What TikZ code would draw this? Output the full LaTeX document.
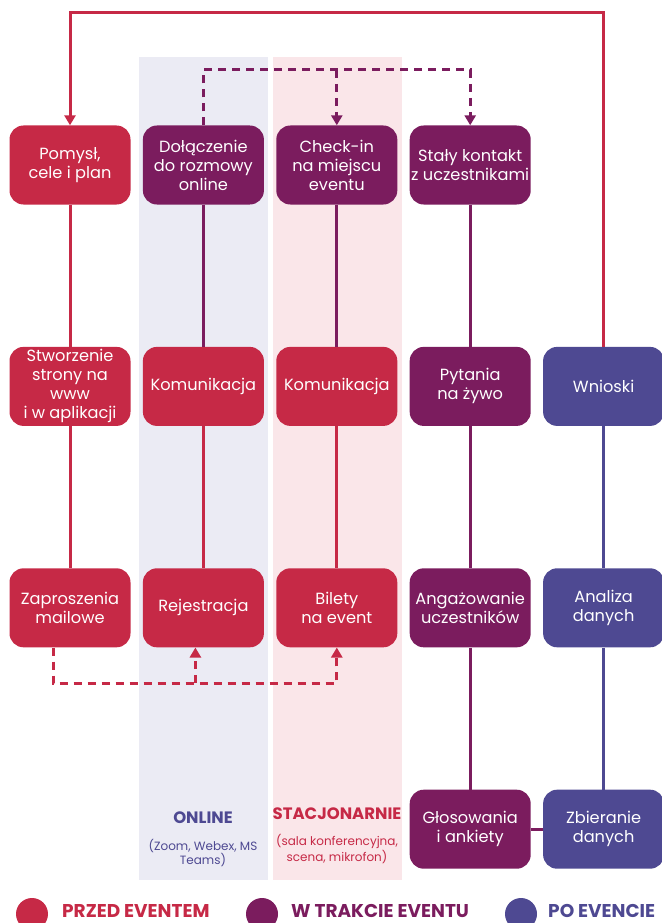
\documentclass[tikz,border=0pt]{standalone}
\usepackage{fontspec}
\setmainfont{Poppins}
\usetikzlibrary{positioning,arrows.meta}
\definecolor{PrzedRed}{RGB}{198,41,70}
\definecolor{TrakciePurple}{RGB}{123,28,94}
\definecolor{PoBlue}{RGB}{78,73,146}
\definecolor{OnlineBand}{RGB}{235,235,244}
\definecolor{StacBand}{RGB}{250,230,233}
\tikzset{
  box/.style={rounded corners=14pt, minimum width=121pt, minimum height=79pt,
    align=center, text=white, inner sep=0pt, font=\fontsize{16.2}{19}\selectfont},
  przed/.style={box, fill=PrzedRed},
  trakcie/.style={box, fill=TrakciePurple},
  po/.style={box, fill=PoBlue},
  link/.style={line width=3pt},
  dashlink/.style={line width=3pt, dash pattern=on 8pt off 6pt},
  tip/.style={-{Triangle[width=11pt,length=10pt]}},
  kropka/.style={circle, inner sep=0pt, minimum size=32pt},
  legenda/.style={anchor=base west, inner sep=0pt, font=\bfseries\fontsize{18.5}{19}\selectfont}
}
\begin{document}
\begin{tikzpicture}[x=1pt, y=-1pt, node distance=142pt and 12pt]
  \useasboundingbox (0,0) rectangle (661,923);
  % tla kanalow
  \fill[OnlineBand] (139,57) rectangle (268,880);
  \fill[StacBand] (273,57) rectangle (402,880);

  % wiersz 1
  \node[przed] (pomysl) at (70,165) {Pomysł,\\cele i plan};
  \node[trakcie, right=of pomysl] (dolaczenie) {Dołączenie\\do rozmowy\\online};
  \node[trakcie, right=of dolaczenie] (checkin) {Check-in\\na miejscu\\eventu};
  \node[trakcie, right=of checkin] (staly) {Stały kontakt\\z uczestnikami};
  % wiersz 2
  \node[przed, below=of pomysl] (strona) {Stworzenie\\strony na\\www\\i w aplikacji};
  \node[przed, below=of dolaczenie] (komonline) {Komunikacja};
  \node[przed, below=of checkin] (komstac) {Komunikacja};
  \node[trakcie, below=of staly] (pytania) {Pytania\\na żywo};
  \node[po, right=of pytania] (wnioski) {Wnioski};
  % wiersz 3
  \node[przed, below=of strona] (zaproszenia) {Zaproszenia\\mailowe};
  \node[przed, below=of komonline] (rejestracja) {Rejestracja};
  \node[przed, below=of komstac] (bilety) {Bilety\\na event};
  \node[trakcie, below=of pytania] (angazowanie) {Angażowanie\\uczestników};
  \node[po, below=of wnioski] (analiza) {Analiza\\danych};
  % wiersz 4
  \node[trakcie, below=of angazowanie] (glosowania) {Głosowania\\i ankiety};
  \node[po, below=of analiza] (zbieranie) {Zbieranie\\danych};

  % opisy kanalow
  \node[font=\bfseries\fontsize{16.5}{18}\selectfont, text=PoBlue] (online) at (203,818) {ONLINE};
  \node[font=\fontsize{12}{14}\selectfont, text=PoBlue, align=center] (onlineopis) at (203,853) {(Zoom, Webex, MS\\Teams)};
  \node[font=\bfseries\fontsize{16.5}{18}\selectfont, text=PrzedRed] (stac) at (337,814) {STACJONARNIE};
  \node[font=\fontsize{12}{14}\selectfont, text=PrzedRed, align=center] (stacopis) at (337,849) {(sala konferencyjna,\\scena, mikrofon)};

  % polaczenia
  \draw[link, PrzedRed] (pomysl) -- (strona);
  \draw[link, PrzedRed] (strona) -- (zaproszenia);
  \draw[link, TrakciePurple] (dolaczenie) -- (komonline);
  \draw[link, PrzedRed] (komonline) -- (rejestracja);
  \draw[link, TrakciePurple] (checkin) -- (komstac);
  \draw[link, PrzedRed] (komstac) -- (bilety);
  \draw[link, TrakciePurple] (staly) -- (pytania);
  \draw[link, TrakciePurple] (pytania) -- (angazowanie);
  \draw[link, TrakciePurple] (angazowanie) -- (glosowania);
  \draw[link, TrakciePurple] (glosowania) -- (zbieranie);
  \draw[link, PoBlue] (wnioski) -- (analiza);
  \draw[link, PoBlue] (analiza) -- (zbieranie);

  % petla od wnioskow
  \coordinate (gora) at (70,13);
  \draw[link, PrzedRed, tip] (wnioski.north) |- (gora) -- (pomysl.north);

  % przerywane
  \coordinate (dgora) at (0,70);
  \coordinate (ddol) at (0,683);
  \draw[dashlink, TrakciePurple, tip] (dolaczenie.north) -- (dolaczenie.north |- dgora)
    -- (staly.north |- dgora) -- (staly.north);
  \draw[dashlink, TrakciePurple, tip] (checkin.north |- dgora) -- (checkin.north);
  \draw[dashlink, PrzedRed, tip] ([xshift=-17pt]zaproszenia.south) -- ([xshift=-17pt]zaproszenia.south |- ddol)
    -- (bilety.south |- ddol) -- (bilety.south);
  \draw[dashlink, PrzedRed, tip] ([xshift=-8pt]rejestracja.south |- ddol) -- ([xshift=-8pt]rejestracja.south);

  % legenda
  \node[kropka, fill=PrzedRed] (kprzed) at (32,914) {};
  \node[kropka, fill=TrakciePurple] (ktrakcie) at (262,914) {};
  \node[kropka, fill=PoBlue] (kpo) at (521,914) {};
  \node[legenda, text=PrzedRed] (lprzed) at (62,917) {PRZED EVENTEM};
  \node[legenda, text=TrakciePurple] (ltrakcie) at (291,917) {W TRAKCIE EVENTU};
  \node[legenda, text=PoBlue] (lpo) at (548,917) {PO EVENCIE};
\end{tikzpicture}
\end{document}
